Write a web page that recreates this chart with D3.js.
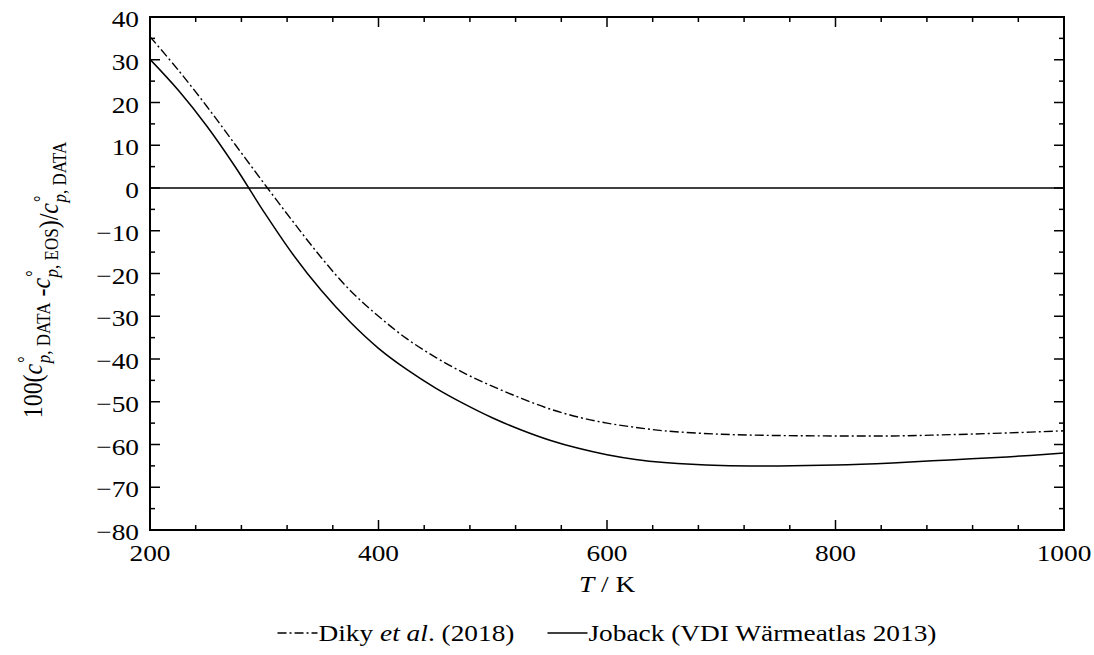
<!DOCTYPE html>
<html>
<head>
<meta charset="utf-8">
<script src="https://cdn.jsdelivr.net/npm/d3@7"></script>
<style>
  body { margin: 0; background: #fff; }
  svg { display: block; }
  text { font-family: "Liberation Serif", "Times New Roman", serif; fill: #000; }
</style>
</head>
<body>
<svg id="chart" width="1094" height="655"></svg>
<script>
// ---- data ----
const temps   = [200, 225, 250, 275, 300, 325, 350, 375, 400, 425, 450, 475, 500, 525, 550, 575, 600, 625, 650, 700, 750, 800, 850, 900, 950, 1000];
const diky    = [35.4, 27.5, 19.0, 10.0, 1.0, -7.8, -16.3, -23.9, -30.0, -35.3, -39.6, -43.3, -46.4, -49.2, -51.7, -53.6, -55.0, -56.0, -56.8, -57.6, -57.9, -58.0, -58.0, -57.7, -57.3, -56.8];
const joback  = [30.1, 22.8, 14.4, 4.8, -5.7, -15.5, -24.0, -31.3, -37.5, -42.5, -46.8, -50.5, -53.8, -56.6, -59.0, -60.9, -62.4, -63.5, -64.2, -64.9, -65.0, -64.8, -64.3, -63.6, -62.9, -62.0];
const xTickLabels = [200, 400, 600, 800, 1000];
const yTickLabels = [40, 30, 20, 10, 0, -10, -20, -30, -40, -50, -60, -70, -80];
const seriesNames = ["Diky", "Joback (VDI Wärmeatlas 2013)"];

// ---- layout ----
const svg = d3.select("#chart");
const L = 150, R = 1064, Tp = 17, B = 530;
const SX = 1.14;   // horizontal stretch of the lettering
const FS = 24;
const x = d3.scaleLinear().domain([200, 1000]).range([L, R]);
const y = d3.scaleLinear().domain([-80, 40]).range([B, Tp]);

const g = svg.append("g");

// zero line
g.append("line")
  .attr("x1", x(200)).attr("x2", x(1000))
  .attr("y1", y(0)).attr("y2", y(0))
  .attr("stroke", "#000").attr("stroke-width", 1.5);

// clip
svg.append("clipPath").attr("id", "clip").append("rect")
  .attr("x", L).attr("y", Tp).attr("width", R - L).attr("height", B - Tp);

const line = d3.line().x((d, i) => x(temps[i])).y(d => y(d)).curve(d3.curveCatmullRom);

g.append("path").datum(diky)
  .attr("d", line).attr("fill", "none").attr("stroke", "#000")
  .attr("stroke-width", 1.4).attr("stroke-dasharray", "9,3,2,3")
  .attr("clip-path", "url(#clip)");
g.append("path").datum(joback)
  .attr("d", line).attr("fill", "none").attr("stroke", "#000")
  .attr("stroke-width", 1.5)
  .attr("clip-path", "url(#clip)");

// ticks (inward, all sides)
const xMinor = d3.range(200, 1001, 40);
const yMinor = d3.range(-80, 41, 5);
const tickG = svg.append("g").attr("stroke", "#000").attr("stroke-width", 1.5);
xMinor.forEach(v => {
  const len = (v % 200 === 0) ? 10 : 5;
  tickG.append("line").attr("x1", x(v)).attr("x2", x(v)).attr("y1", B).attr("y2", B - len);
  tickG.append("line").attr("x1", x(v)).attr("x2", x(v)).attr("y1", Tp).attr("y2", Tp + len);
});
yMinor.forEach(v => {
  const len = (v % 10 === 0) ? 10 : 5;
  tickG.append("line").attr("x1", L).attr("x2", L + len).attr("y1", y(v)).attr("y2", y(v));
  tickG.append("line").attr("x1", R).attr("x2", R - len).attr("y1", y(v)).attr("y2", y(v));
});

// frame
svg.append("rect").attr("x", L).attr("y", Tp).attr("width", R - L).attr("height", B - Tp)
  .attr("fill", "none").attr("stroke", "#000").attr("stroke-width", 2);

// tick labels
const fmt = v => (v < 0 ? "\u2212" + Math.abs(v) : String(v));
svg.append("g").selectAll("text").data(xTickLabels).join("text")
  .attr("transform", d => `translate(${x(d)},561) scale(${SX},1)`)
  .attr("text-anchor", "middle").attr("font-size", FS)
  .text(fmt);
svg.append("g").selectAll("text").data(yTickLabels).join("text")
  .attr("transform", d => `translate(139,${y(d) + 10}) scale(${SX},1)`)
  .attr("text-anchor", "end").attr("font-size", FS)
  .text(fmt);

// x axis label
const xl = svg.append("text").attr("transform", `translate(607,592) scale(${SX},1)`)
  .attr("text-anchor", "middle").attr("font-size", FS);
xl.append("tspan").attr("font-style", "italic").text("T");
xl.append("tspan").text(" / K");

// y axis label
const yl = svg.append("text")
  .attr("transform", `translate(42,280) scale(${SX},1) rotate(-90)`)
  .attr("text-anchor", "middle").attr("font-size", 24);
function cp(sub) {
  yl.append("tspan").attr("font-style", "italic").text("c");
  yl.append("tspan").attr("font-size", 16).attr("dy", -10).attr("dx", 1).text("°");
  yl.append("tspan").attr("font-size", 17).attr("font-style", "italic").attr("dy", 17).attr("dx", -7).text("p");
  yl.append("tspan").attr("font-size", 17).text(", " + sub);
  yl.append("tspan").attr("dy", -7).text("");
}
yl.append("tspan").text("100(");
cp("DATA");
yl.append("tspan").text(" -");
cp("EOS");
yl.append("tspan").text(")/");
cp("DATA");

// legend (centred under the plot)
const ly = 633, lb = 641, lineW = 40, gapItems = 33;
const leg = svg.append("g");
const it1 = leg.append("g");
it1.append("line").attr("x1", 0).attr("x2", lineW).attr("y1", ly).attr("y2", ly)
  .attr("stroke", "#000").attr("stroke-width", 1.4).attr("stroke-dasharray", "9,3,2,3");
const t1 = it1.append("text").attr("transform", `translate(${lineW + 1},${lb}) scale(${SX},1)`).attr("font-size", FS);
t1.append("tspan").text(seriesNames[0] + " ");
t1.append("tspan").attr("font-style", "italic").text("et al");
t1.append("tspan").text(". (2018)");
const w1 = lineW + 1 + t1.node().getComputedTextLength() * SX;
const it2 = leg.append("g").attr("transform", `translate(${w1 + gapItems},0)`);
it2.append("line").attr("x1", 0).attr("x2", lineW).attr("y1", ly).attr("y2", ly)
  .attr("stroke", "#000").attr("stroke-width", 1.5);
const t2 = it2.append("text").attr("transform", `translate(${lineW + 1},${lb}) scale(${SX},1)`).attr("font-size", FS).text(seriesNames[1]);
const w2 = lineW + 1 + t2.node().getComputedTextLength() * SX;
const total = w1 + gapItems + w2;
leg.attr("transform", `translate(${(L + R) / 2 - total / 2},0)`);
</script>
</body>
</html>
